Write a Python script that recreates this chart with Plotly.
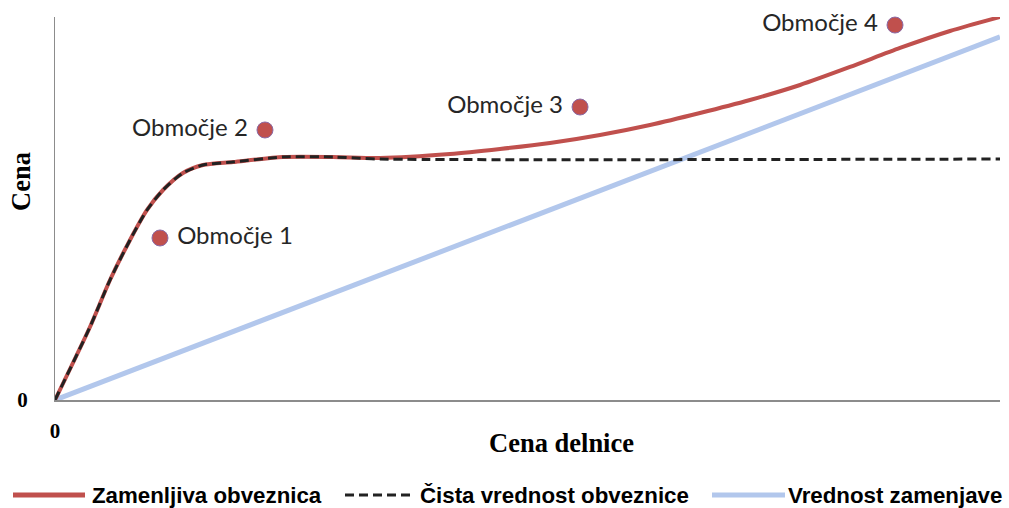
import plotly.graph_objects as go

# Convertible bond value vs. share price (arbitrary units, 0-100)
bond_x = [0, 3.70, 5.82, 7.94, 9.74, 11.43, 13.54, 15.66, 18.84, 24.13, 29.42,
          34.39, 41.80, 47.09, 52.38, 57.67, 62.96, 68.25, 73.54, 78.84, 84.13,
          89.42, 94.71, 100]
bond_y = [0, 19.06, 31.33, 41.78, 49.61, 54.83, 59.27, 61.36, 62.14, 63.45, 63.45,
          63.2, 64.23, 65.54, 67.10, 69.19, 71.80, 74.93, 78.33, 82.25, 86.95,
          91.91, 96.34, 100]

# Straight bond value (floor)
straight_x = [0, 3.70, 5.82, 7.94, 9.74, 11.43, 13.54, 15.66, 18.84, 24.13, 29.42,
              34.39, 100]
straight_y = [0, 19.06, 31.33, 41.78, 49.61, 54.83, 59.27, 61.36, 62.14, 63.45, 63.45,
              62.92, 62.92]

# Conversion value
conv_x = [0, 100]
conv_y = [0, 94.8]

# Region markers
region_labels = ["\u00a0Območje 1", "Območje 2\u00a0", "Območje 3\u00a0", "Območje 4\u00a0"]
region_x = [11.11, 22.22, 55.56, 88.89]
region_y = [42.3, 70.5, 76.5, 97.9]
region_text_pos = ["middle right", "middle left", "middle left", "middle left"]

legend_names = ["Zamenljiva obveznica", "Čista vrednost obveznice", "Vrednost zamenjave"]
axis_titles = {"x": "Cena delnice", "y": "Cena"}

RED = "#c0504d"
BLUE = "#b2c7ec"
DASH = "#222222"

fig = go.Figure()
fig.add_trace(go.Scatter(x=conv_x, y=conv_y, mode="lines",
                         line=dict(color=BLUE, width=5), name=legend_names[2]))
fig.add_trace(go.Scatter(x=bond_x, y=bond_y, mode="lines",
                         line=dict(color=RED, width=4, shape="spline", smoothing=0.7),
                         name=legend_names[0]))
fig.add_trace(go.Scatter(x=straight_x, y=straight_y, mode="lines",
                         line=dict(color=DASH, width=3, dash="9px,5px",
                                   shape="spline", smoothing=0.7),
                         name=legend_names[1]))
fig.add_trace(go.Scatter(x=region_x, y=region_y, mode="markers+text",
                         marker=dict(size=16, color=RED,
                                     line=dict(color="#8a6aa6", width=1)),
                         text=region_labels, textposition=region_text_pos,
                         textfont=dict(family="Lato", size=24, color="#262626"),
                         cliponaxis=False, showlegend=False))

# Manual legend along the bottom (pixel positions converted to paper units)
PW, PH, L, B = 945, 383, 55, 400


def px_x(p):
    return (p - L) / PW


def px_y(p):
    return (B - p) / PH


legend_items = [
    (13, 85, RED, "solid", 5, 90, legend_names[0]),
    (345, 415, DASH, "9px,5px", 3, 418, legend_names[1]),
    (712, 785, BLUE, "solid", 5, 786, legend_names[2]),
]
shapes = []
annotations = []
for x0, x1, col, dash, w, tx, name in legend_items:
    shapes.append(dict(type="line", xref="paper", yref="paper",
                       x0=px_x(x0), x1=px_x(x1), y0=px_y(495), y1=px_y(495),
                       line=dict(color=col, width=w, dash=dash)))
    annotations.append(dict(xref="paper", yref="paper", x=px_x(tx), y=px_y(495),
                            xanchor="left", yanchor="middle", showarrow=False,
                            text=f"<b>{name}</b>",
                            font=dict(family="Liberation Sans", size=22.3, color="black")))

annotations.append(dict(xref="paper", yref="paper", x=px_x(561), y=px_y(443),
                        xanchor="center", yanchor="middle", showarrow=False,
                        text=f"<b>{axis_titles['x']}</b>",
                        font=dict(family="Liberation Serif", size=26.5, color="black")))
annotations.append(dict(xref="paper", yref="paper", x=px_x(21), y=px_y(182),
                        xanchor="center", yanchor="middle", showarrow=False,
                        textangle=-90, text=f"<b>{axis_titles['y']}</b>",
                        font=dict(family="Liberation Serif", size=26.5, color="black")))

fig.update_layout(
    width=1009, height=508,
    margin=dict(l=55, r=9, t=17, b=108),
    paper_bgcolor="white", plot_bgcolor="white",
    showlegend=False,
    shapes=shapes, annotations=annotations,
    xaxis=dict(range=[0, 100], showgrid=False, zeroline=False,
               showline=True, linecolor="#8c8c8c", linewidth=2,
               tickvals=[0], ticktext=["<b>0</b>"], ticks="",
               ticklabelstandoff=11,
               tickfont=dict(family="Liberation Serif", size=21, color="black")),
    yaxis=dict(range=[0, 100], showgrid=False, zeroline=False,
               showline=True, linecolor="#8c8c8c", linewidth=1,
               tickvals=[0], ticktext=["<b>0</b>"], ticks="",
               ticklabelstandoff=22,
               tickfont=dict(family="Liberation Serif", size=21, color="black")),
)

fig.write_html("out.html")
